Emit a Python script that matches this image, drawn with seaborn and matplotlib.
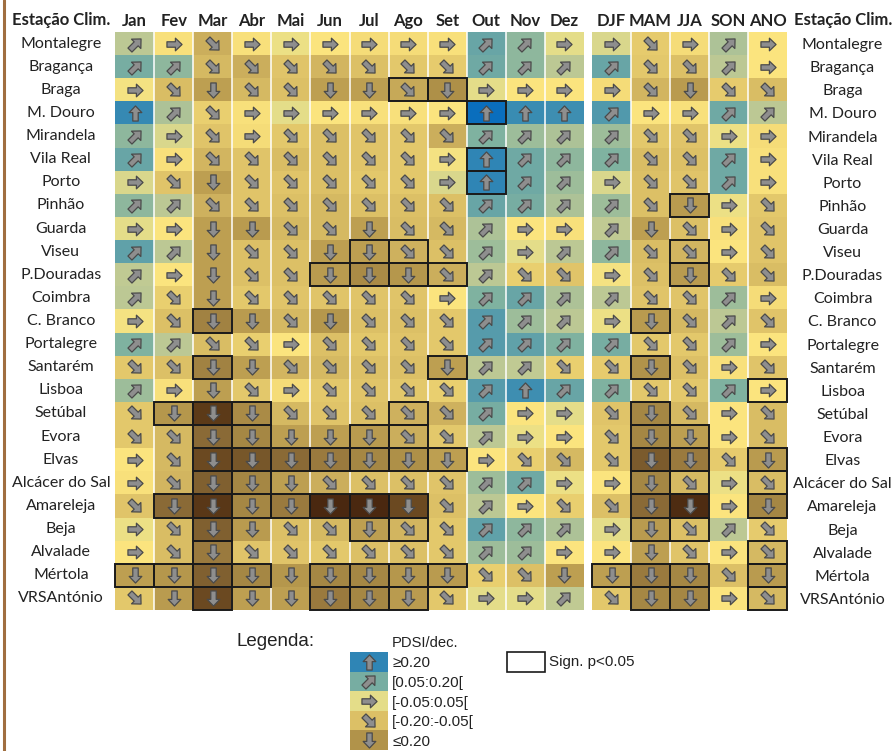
import numpy as np
import pandas as pd
import matplotlib
matplotlib.use("Agg")
import matplotlib.pyplot as plt
import seaborn as sns
from matplotlib.colors import LinearSegmentedColormap
from matplotlib.path import Path
from matplotlib.markers import MarkerStyle
from matplotlib.patches import Rectangle
from matplotlib.lines import Line2D
from matplotlib.transforms import Affine2D

# ---------------------------------------------------------------- data
stations = ["Montalegre", "Bragança", "Braga", "M. Douro", "Mirandela", "Vila Real",
            "Porto", "Pinhão", "Guarda", "Viseu", "P.Douradas", "Coimbra", "C. Branco",
            "Portalegre", "Santarém", "Lisboa", "Setúbal", "Evora", "Elvas",
            "Alcácer do Sal", "Amareleja", "Beja", "Alvalade", "Mértola", "VRSAntónio"]
months = ["Jan", "Fev", "Mar", "Abr", "Mai", "Jun", "Jul", "Ago", "Set", "Out", "Nov", "Dez"]
seasons = ["DJF", "MAM", "JJA", "SON", "ANO"]

# PDSI trend (per decade), monthly
monthly = [
    [0.06, -0.02, -0.15, -0.02, 0.01, -0.01, -0.03, -0.03, -0.02, 0.13, 0.09, 0.02],
    [0.11, 0.09, -0.12, -0.15, -0.09, -0.13, -0.10, -0.08, -0.07, 0.12, 0.09, 0.06],
    [0.00, -0.11, -0.21, -0.12, -0.10, -0.21, -0.21, -0.17, -0.25, 0.02, -0.01, -0.01],
    [0.23, 0.07, -0.06, -0.02, 0.02, -0.01, -0.02, -0.02, -0.01, 0.36, 0.22, 0.21],
    [0.09, 0.03, -0.09, -0.03, -0.08, -0.10, -0.09, -0.08, -0.15, 0.10, 0.08, 0.07],
    [0.13, -0.02, -0.13, -0.09, -0.11, -0.10, -0.09, -0.08, 0.00, 0.25, 0.12, 0.09],
    [0.03, -0.09, -0.21, -0.09, -0.09, -0.10, -0.08, -0.08, 0.03, 0.25, 0.12, 0.08],
    [0.09, 0.06, -0.14, -0.09, -0.10, -0.12, -0.10, -0.10, -0.10, 0.13, 0.11, 0.07],
    [0.02, -0.01, -0.21, -0.22, -0.12, -0.12, -0.21, -0.11, -0.12, 0.07, -0.01, -0.02],
    [0.14, 0.06, -0.21, -0.10, -0.10, -0.21, -0.21, -0.14, -0.10, 0.08, 0.02, 0.06],
    [0.055, -0.01, -0.21, -0.10, -0.10, -0.22, -0.26, -0.23, -0.15, 0.06, -0.06, -0.09],
    [0.06, -0.06, -0.21, -0.08, -0.09, -0.09, -0.09, -0.09, -0.01, 0.10, 0.13, 0.07],
    [0.00, -0.10, -0.28, -0.22, -0.12, -0.23, -0.10, -0.10, -0.08, 0.16, 0.08, 0.06],
    [0.10, 0.06, -0.11, -0.06, -0.01, -0.10, -0.08, -0.09, -0.08, 0.16, 0.14, 0.10],
    [-0.08, -0.10, -0.28, -0.21, -0.13, -0.12, -0.10, -0.10, -0.21, 0.06, 0.055, -0.06],
    [0.08, -0.02, -0.21, -0.08, -0.03, -0.08, -0.09, -0.08, -0.06, 0.16, 0.21, 0.13],
    [-0.08, -0.23, -0.45, -0.26, -0.12, -0.09, -0.10, -0.14, -0.14, 0.11, -0.01, 0.02],
    [-0.08, -0.12, -0.33, -0.27, -0.21, -0.21, -0.22, -0.15, -0.08, 0.06, 0.01, -0.01],
    [-0.01, -0.12, -0.40, -0.37, -0.33, -0.30, -0.27, -0.25, -0.21, -0.01, -0.06, -0.12],
    [-0.02, -0.13, -0.35, -0.27, -0.21, -0.15, -0.10, -0.10, -0.09, 0.08, 0.12, 0.01],
    [-0.09, -0.33, -0.46, -0.27, -0.30, -0.52, -0.52, -0.40, -0.10, 0.06, -0.01, -0.06],
    [0.01, -0.11, -0.35, -0.22, -0.10, -0.12, -0.21, -0.13, -0.08, 0.14, 0.09, 0.07],
    [-0.01, -0.11, -0.30, -0.09, -0.09, -0.08, -0.10, -0.10, -0.08, 0.08, 0.08, -0.01],
    [-0.21, -0.23, -0.35, -0.27, -0.23, -0.27, -0.27, -0.23, -0.22, -0.06, -0.10, -0.21],
    [-0.08, -0.22, -0.40, -0.21, -0.21, -0.30, -0.27, -0.22, -0.08, 0.02, 0.02, 0.055],
]

# PDSI trend (per decade), seasonal and annual
seasonal = [
    [0.03, -0.07, -0.03, 0.07, -0.01],
    [0.13, -0.08, -0.10, 0.06, -0.01],
    [-0.03, -0.13, -0.22, -0.07, -0.11],
    [0.17, -0.01, -0.02, 0.12, 0.06],
    [0.08, -0.08, -0.09, 0.01, -0.03],
    [0.10, -0.11, -0.10, 0.12, -0.02],
    [0.03, -0.10, -0.09, 0.12, -0.02],
    [0.08, -0.10, -0.22, 0.01, -0.08],
    [0.055, -0.21, -0.10, -0.02, -0.09],
    [0.09, -0.11, -0.13, -0.01, -0.09],
    [0.00, -0.10, -0.22, -0.07, -0.11],
    [0.06, -0.09, -0.09, 0.08, -0.03],
    [0.01, -0.22, -0.12, 0.06, -0.09],
    [0.11, -0.08, -0.08, 0.08, -0.01],
    [-0.07, -0.24, -0.10, -0.02, -0.09],
    [0.10, -0.08, -0.08, 0.10, -0.01],
    [-0.09, -0.27, -0.12, -0.01, -0.11],
    [-0.08, -0.27, -0.21, -0.01, -0.11],
    [-0.08, -0.36, -0.30, -0.07, -0.22],
    [-0.01, -0.27, -0.12, 0.01, -0.11],
    [-0.10, -0.33, -0.50, -0.01, -0.27],
    [0.02, -0.22, -0.10, 0.06, -0.07],
    [-0.01, -0.21, -0.09, -0.01, -0.12],
    [-0.21, -0.30, -0.27, -0.10, -0.22],
    [-0.08, -0.27, -0.27, -0.01, -0.12],
]

# significant trends (p < 0.05)
sig_monthly = {
    "Braga": ["Ago", "Set"],
    "M. Douro": ["Out"],
    "Vila Real": ["Out"],
    "Porto": ["Out"],
    "Viseu": ["Jul", "Ago"],
    "P.Douradas": ["Jun", "Jul", "Ago", "Set"],
    "C. Branco": ["Mar"],
    "Santarém": ["Mar", "Set"],
    "Setúbal": ["Fev", "Mar", "Abr", "Ago"],
    "Evora": ["Mar", "Abr", "Jul", "Ago"],
    "Elvas": ["Mar", "Abr", "Mai", "Jun", "Jul", "Ago", "Set"],
    "Alcácer do Sal": ["Mar", "Abr"],
    "Amareleja": ["Fev", "Mar", "Abr", "Mai", "Jun", "Jul", "Ago"],
    "Beja": ["Mar", "Jul", "Ago"],
    "Alvalade": ["Mar"],
    "Mértola": ["Jan", "Fev", "Mar", "Abr", "Jun", "Jul", "Ago", "Set"],
    "VRSAntónio": ["Mar", "Jun", "Jul", "Ago"],
}
sig_seasonal = {
    "Pinhão": ["JJA"],
    "Viseu": ["JJA"],
    "P.Douradas": ["JJA"],
    "C. Branco": ["MAM"],
    "Santarém": ["MAM"],
    "Lisboa": ["ANO"],
    "Setúbal": ["MAM"],
    "Evora": ["MAM", "JJA"],
    "Elvas": ["MAM", "JJA", "ANO"],
    "Alcácer do Sal": ["MAM", "JJA", "ANO"],
    "Amareleja": ["MAM", "JJA", "ANO"],
    "Beja": ["MAM", "JJA"],
    "Alvalade": ["ANO"],
    "Mértola": ["DJF", "MAM", "JJA", "ANO"],
    "VRSAntónio": ["MAM", "JJA", "ANO"],
}

legend_labels = ["≥0.20", "[0.05:0.20[", "[-0.05:0.05[", "[-0.20:-0.05[", "≤0.20"]
legend_values = [0.25, 0.11, 0.02, -0.10, -0.24]

# ---------------------------------------------------------------- style
sns.set_style("white")
plt.rcParams["font.family"] = ["Lato", "DejaVu Sans"]
TXT = "#222222"
FS = 12
FS_ROW = 11.5

anchors = [(-0.52, "#4A2810"), (-0.42, "#64421C"), (-0.35, "#806030"),
           (-0.30, "#9A7A3E"), (-0.25, "#AE9048"), (-0.20, "#C0A253"),
           (-0.15, "#CBAE5C"), (-0.10, "#DCC066"), (-0.05, "#EDD372"),
           (-0.01, "#FCE47E"), (0.02, "#E6DE88"), (0.06, "#BCC894"),
           (0.10, "#80B2A0"), (0.15, "#5A9EAA"), (0.22, "#3A8CB2"),
           (0.36, "#0A6EBD")]
VMIN, VMAX = anchors[0][0], anchors[-1][0]
cmap = LinearSegmentedColormap.from_list(
    "pdsi", [((v - VMIN) / (VMAX - VMIN), c) for v, c in anchors])

# block arrow pointing right; rotated per trend class
ARROW = Path([(-0.5, -0.18), (0.06, -0.18), (0.06, -0.42), (0.5, 0.0),
              (0.06, 0.42), (0.06, 0.18), (-0.5, 0.18), (-0.5, -0.18)],
             [Path.MOVETO] + [Path.LINETO] * 6 + [Path.CLOSEPOLY])


def arrow_angle(v):
    if v >= 0.20:
        return 90
    if v >= 0.05:
        return 45
    if v >= -0.05:
        return 0
    if v >= -0.20:
        return -45
    return -90


def draw_arrows(ax, values):
    vals = np.asarray(values, dtype=float)
    angles = np.vectorize(arrow_angle)(vals)
    for a in (90, 45, 0, -45, -90):
        rr, cc = np.nonzero(angles == a)
        if len(rr) == 0:
            continue
        m = MarkerStyle(ARROW, transform=Affine2D().rotate_deg(a))
        size = 118 if a in (0, 90, -90) else 128
        ax.scatter(cc + 0.5, rr + 0.5, marker=m, s=size, c="#8E8E8E",
                   edgecolors="#4A4A4A", linewidths=0.9, zorder=4)


def draw_sig(ax, sig, cols):
    for st, cl in sig.items():
        r = stations.index(st)
        for c in cl:
            ax.add_patch(Rectangle((cols.index(c), r), 1, 1, fill=False,
                                   ec="#1A1A1A", lw=1.4, zorder=6, clip_on=False))


W, H = 894, 751
fig = plt.figure(figsize=(W / 100, H / 100), dpi=100)


def px_axes(x0, y0, x1, y1):
    return fig.add_axes([x0 / W, 1 - y1 / H, (x1 - x0) / W, (y1 - y0) / H])


df_m = pd.DataFrame(monthly, index=stations, columns=months)
df_s = pd.DataFrame(seasonal, index=stations, columns=seasons)

ax_m = px_axes(115, 32, 584, 610)
ax_s = px_axes(592, 32, 787, 610)

for ax, df, sig in ((ax_m, df_m, sig_monthly), (ax_s, df_s, sig_seasonal)):
    sns.heatmap(df, ax=ax, cmap=cmap, vmin=VMIN, vmax=VMAX, cbar=False,
                linewidths=0, xticklabels=True, yticklabels=True)
    for x in range(1, df.shape[1]):
        ax.axvline(x, color="white", lw=1.1, zorder=3)
    draw_arrows(ax, df.values)
    draw_sig(ax, sig, list(df.columns))
    ax.xaxis.tick_top()
    ax.tick_params(axis="x", length=0, pad=2)
    for t in ax.get_xticklabels():
        t.set_fontweight("bold")
        t.set_fontsize(FS)
        t.set_color(TXT)
        t.set_rotation(0)

# station names on both sides
ax_m.tick_params(axis="y", length=0, pad=39)
for t in ax_m.get_yticklabels():
    t.set_ha("center"); t.set_fontsize(FS_ROW); t.set_color(TXT); t.set_rotation(0)
ax_s.yaxis.tick_right()
ax_s.tick_params(axis="y", length=0, pad=40)
for t in ax_s.get_yticklabels():
    t.set_ha("center"); t.set_fontsize(FS_ROW); t.set_color(TXT); t.set_rotation(0)
ax_m.set_xlabel(""); ax_m.set_ylabel("")
ax_s.set_xlabel(""); ax_s.set_ylabel("")

for xc in (61, 843):
    fig.text(xc / W, 1 - 20 / H, "Estação Clim.", ha="center", va="center",
             fontsize=FS, fontweight="bold", color=TXT)

# left border line
fig.add_artist(Line2D([4 / W, 4 / W], [0, 1], transform=fig.transFigure,
                      color="#A06E40", lw=2.2))

# ---------------------------------------------------------------- legend
LEG = ["Liberation Sans", "DejaVu Sans"]
ax_l = px_axes(350, 652, 388, 750)
df_l = pd.DataFrame({"v": legend_values}, index=legend_labels)
sns.heatmap(df_l, ax=ax_l, cmap=cmap, vmin=VMIN, vmax=VMAX, cbar=False,
            xticklabels=False, yticklabels=True)
draw_arrows(ax_l, df_l.values)
ax_l.yaxis.tick_right()
ax_l.tick_params(axis="y", length=0, pad=3)
for t in ax_l.get_yticklabels():
    t.set_family(LEG); t.set_fontsize(11); t.set_rotation(0); t.set_color(TXT)
ax_l.set_ylabel("")

fig.text(236 / W, 1 - 642 / H, "Legenda:", ha="left", va="center",
         fontsize=13.5, family=LEG, color=TXT)
fig.text(392 / W, 1 - 643 / H, "PDSI/dec.", ha="left", va="center",
         fontsize=10.6, family=LEG, color=TXT)
fig.add_artist(Rectangle((507 / W, 1 - 672 / H), 38 / W, 20 / H,
                         transform=fig.transFigure, fill=False, ec="#1A1A1A", lw=1.2))
fig.text(549 / W, 1 - 662 / H, "Sign. p<0.05", ha="left", va="center",
         fontsize=10.9, family=LEG, color=TXT)

fig.savefig("out.png", dpi=100, facecolor="white")
